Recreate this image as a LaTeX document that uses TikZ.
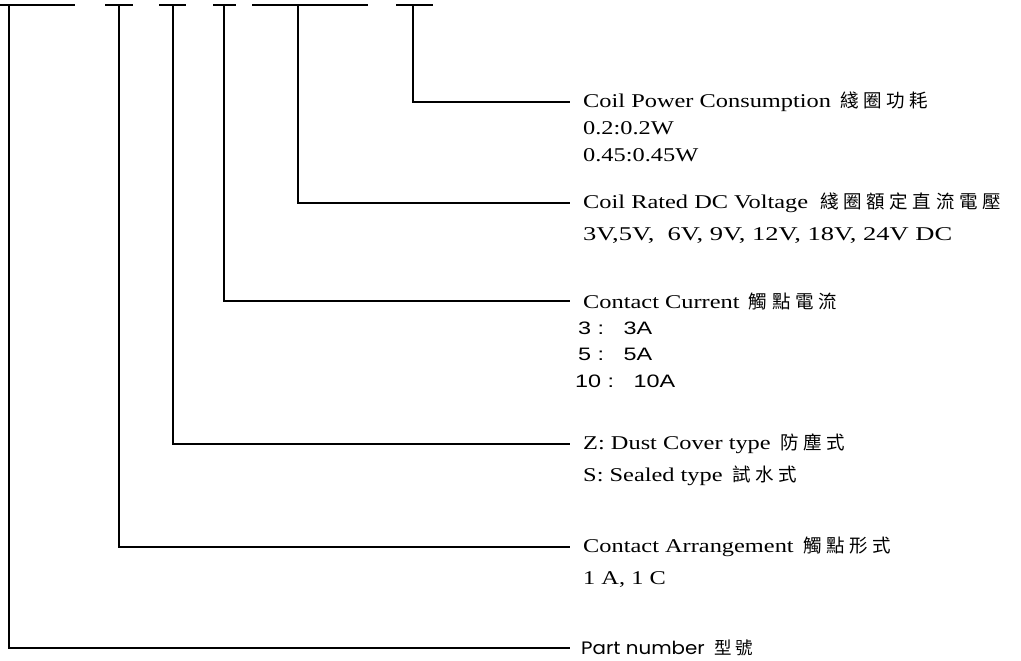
\documentclass[tikz,border=0pt]{standalone}
\usepackage{fontspec}
\setmainfont{Liberation Serif}[FakeStretch=1.25]
\newfontfamily\widefont{Liberation Serif}[FakeStretch=1.36]
\newfontfamily\arialfont{Liberation Sans}[FakeStretch=1.3]
\newfontfamily\geofont{Poppins}[FakeStretch=1.1]
\newfontfamily\cjk{Noto Sans CJK TC}[LetterSpace=25]
\tikzset{
	bar/.style={line width=1.6pt},
	lead/.style={line width=1.3pt},
	item/.style={anchor=west,inner sep=0pt,font=\fontsize{19.5}{22}\selectfont},
	numitem/.style={item,font=\fontsize{18}{22}\selectfont\arialfont}
}

\begin{document}
\begin{tikzpicture}[x=1pt,y=-1pt]
	\useasboundingbox (0,0) rectangle (1021,661);
	% top bars of the code
	\draw[bar] (0,5) -- (75,5);
	\draw[bar] (105,5) -- (133,5);
	\draw[bar] (159,5) -- (186,5);
	\draw[bar] (213,5) -- (236,5);
	\draw[bar] (252,5) -- (368,5);
	\draw[bar] (396,5) -- (433,5);
	\coordinate (pn) at (9,5);
	\coordinate (ca) at (119,5);
	\coordinate (ct) at (173,5);
	\coordinate (cc) at (224,5);
	\coordinate (cv) at (298,5);
	\coordinate (cp) at (413,5);
	% labels
	\node[item] (cpl) at (583,102) {Coil Power Consumption\ \,{\cjk\fontsize{18.5}{22}\selectfont 綫圈功耗}};
	\node[item] (cp1) at (583,128) {0.2:0.2W};
	\node[item] (cp2) at (583,155) {0.45:0.45W};
	\node[item] (cvl) at (583,203) {Coil Rated DC Voltage\ \ {\cjk\fontsize{18.5}{22}\selectfont 綫圈額定直流電壓}};
	\node[item] (cv1) at (583,236) {\widefont 3V,5V,\ \ 6V, 9V, 12V, 18V, 24V DC};
	\node[item] (ccl) at (583,301) {Contact Current\ \,{\cjk\fontsize{18.5}{22}\selectfont 觸點電流}};
	\node[numitem] (cc1) at (578,328) {3 :\ \ \ 3A};
	\node[numitem] (cc2) at (578,354) {5 :\ \ \ 5A};
	\node[numitem] (cc3) at (575,381) {10 :\ \ \ 10A};
	\node[item] (ctl) at (583,444) {Z: Dust Cover type\ \,{\cjk\fontsize{18.5}{22}\selectfont 防塵式}};
	\node[item] (ct1) at (583,476) {S: Sealed type\ \,{\cjk\fontsize{18.5}{22}\selectfont 試水式}};
	\node[item] (cal) at (583,547) {Contact Arrangement\ \,{\cjk\fontsize{18.5}{22}\selectfont 觸點形式}};
	\node[item] (ca1) at (583,580) {1 A, 1 C};
	\node[item] (pnl) at (581,648) {{\geofont\fontsize{18}{22}\selectfont Part number}\ \,{\cjk\fontsize{17.5}{22}\selectfont 型號}};
	% leaders
	\draw[lead] (cp) |- ([xshift=-13pt]cpl.west);
	\draw[lead] (cv) |- ([xshift=-13pt]cvl.west);
	\draw[lead] (cc) |- ([xshift=-13pt]ccl.west);
	\draw[lead] (ct) |- ([xshift=-13pt]ctl.west);
	\draw[lead] (ca) |- ([xshift=-13pt]cal.west);
	\draw[lead] (pn) |- ([xshift=-11pt]pnl.west);
\end{tikzpicture}
\end{document}
